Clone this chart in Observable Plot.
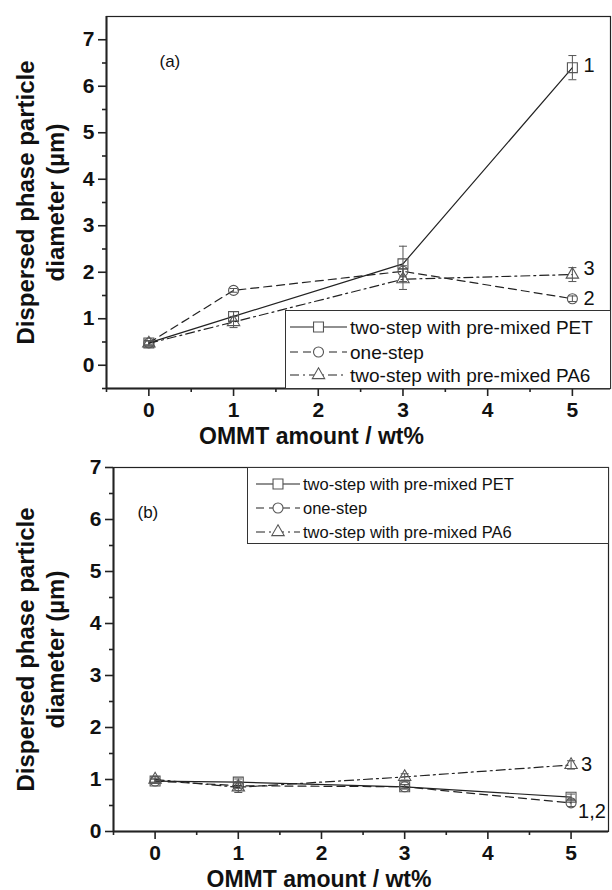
<!DOCTYPE html>
<html><head><meta charset="utf-8">
<script src="https://cdn.jsdelivr.net/npm/d3@7"></script>
<script src="https://cdn.jsdelivr.net/npm/@observablehq/plot@0.6"></script>
<style>
body{margin:0;background:#fff}
#wrap{position:relative;width:612px;height:890px;overflow:hidden;font-family:"Liberation Sans",Arial,sans-serif}
#wrap > *{position:absolute}
</style>
</head><body><div id="wrap"></div>
<script>
// ---- data ----
const xValues = [0, 1, 3, 5];
const seriesNames = ["two-step with pre-mixed PET", "one-step", "two-step with pre-mixed PA6"];
const seriesTags = ["1", "2", "3"];
const xLabel = "OMMT amount / wt%";
const yLabel = "Dispersed phase particle\ndiameter (µm)";
const yMajorTicks = [0, 1, 2, 3, 4, 5, 6, 7];
const xMajorTicks = [0, 1, 2, 3, 4, 5];

// panel (a)
const aPET = [0.48, 1.05, 2.18, 6.40];
const aPETErr = [0.05, 0.10, 0.38, 0.26];
const aOne = [0.48, 1.61, 2.02, 1.43];
const aOneErr = [0.04, 0.04, 0.12, 0.06];
const aPA6 = [0.47, 0.93, 1.85, 1.95];
const aPA6Err = [0.06, 0.12, 0.22, 0.15];

// panel (b)
const bPET = [0.97, 0.95, 0.86, 0.66];
const bPETErr = [0.04, 0.06, 0.04, 0.06];
const bOne = [0.97, 0.88, 0.86, 0.55];
const bOneErr = [0.04, 0.05, 0.04, 0.07];
const bPA6 = [1.00, 0.85, 1.05, 1.28];
const bPA6Err = [0.05, 0.10, 0.06, 0.08];

// ---- styling ----
const FONT = '"Liberation Sans", Arial, sans-serif';
const lineStyles = [null, "8,5", "9,4,2,4"];
const symbols = ["square", "circle", "triangle"];
const symbolR = [5.6, 5, 4.6];
const markerStroke = "#555";
const capSymbol = {draw(ctx, size) { const w = Math.sqrt(size / Math.PI); ctx.moveTo(-w, 0); ctx.lineTo(w, 0); }};

function rows(vals, errs) { return xValues.map((x, i) => ({x, y: vals[i], e: errs[i]})); }

function panel({series, tags, xDomain, yDomain, width, height, mt, mb, ml, mr, letter, letterDx, letterDy, titleDx, titleDy}) {
  const marks = [];
  const yMinor = d3.range(yDomain[0] < 0 ? -0.5 : 0.5, yDomain[1], 1);
  const xMinor = d3.range(-0.5, xDomain[1], 1);
  const fmt = d => String(d);
  marks.push(Plot.frame({stroke: "#222", strokeWidth: 1.2}));
  marks.push(Plot.axisY({ticks: yMinor, tickSize: 4, tickFormat: () => "", label: null, strokeWidth: 1.6}));
  marks.push(Plot.axisY({ticks: yMajorTicks, tickSize: 8, tickPadding: 4, tickFormat: fmt, label: null, fontSize: 21, fontWeight: "bold", strokeWidth: 1.6, fill: "#111"}));
  marks.push(Plot.axisX({ticks: xMinor, tickSize: 4, tickFormat: () => "", label: null, strokeWidth: 1.6}));
  marks.push(Plot.axisX({ticks: xMajorTicks, tickSize: 8, tickPadding: 6, tickFormat: fmt, label: null, fontSize: 21, fontWeight: "bold", strokeWidth: 1.6, fill: "#111"}));
  marks.push(Plot.ruleX([xDomain[0]], {stroke: "#222", strokeWidth: 2}));
  marks.push(Plot.ruleY([yDomain[0]], {stroke: "#222", strokeWidth: 2}));
  series.forEach((data, k) => {
    marks.push(Plot.line(data, {x: "x", y: "y", stroke: "#222", strokeWidth: 1.2, strokeDasharray: lineStyles[k]}));
    marks.push(Plot.ruleX(data, {x: "x", y1: d => d.y - d.e, y2: d => d.y + d.e, stroke: markerStroke, strokeWidth: 1}));
    marks.push(Plot.dot(data, {x: "x", y: d => d.y + d.e, symbol: capSymbol, r: 4, stroke: markerStroke, strokeWidth: 1}));
    marks.push(Plot.dot(data, {x: "x", y: d => d.y - d.e, symbol: capSymbol, r: 4, stroke: markerStroke, strokeWidth: 1}));
    marks.push(Plot.dot(data, {x: "x", y: "y", symbol: symbols[k], r: symbolR[k], fill: "none", stroke: markerStroke, strokeWidth: 1.1}));
  });
  tags.forEach(t => {
    const last = series[t.series][series[t.series].length - 1];
    marks.push(Plot.text([last], {x: "x", y: "y", text: () => t.text, dx: t.dx, dy: t.dy, textAnchor: "start", fontSize: 20, fill: "#111"}));
  });
  marks.push(Plot.text([letter], {frameAnchor: "top-left", dx: letterDx, dy: letterDy, textAnchor: "start", fontSize: 17, fill: "#111"}));
  marks.push(Plot.text([xLabel], {frameAnchor: "bottom", dx: titleDx, dy: titleDy, fontSize: 23, fontWeight: "bold", fill: "#111"}));
  marks.push(Plot.text([yLabel], {frameAnchor: "left", rotate: -90, dx: -ml + 39, textAnchor: "middle", lineAnchor: "middle", lineHeight: 1.25, fontSize: 24, fontWeight: "bold", fill: "#111"}));
  return Plot.plot({
    width, height, marginTop: mt, marginBottom: mb, marginLeft: ml, marginRight: mr,
    style: {fontFamily: FONT, background: "white", color: "#222", overflow: "visible"},
    x: {domain: xDomain, axis: null},
    y: {domain: yDomain, axis: null},
    marks
  });
}

function legend({left, top, width, height, rowYs, sampleX0, sampleX1, textX, fontSize}) {
  const svg = d3.create("svg").attr("width", width + 2).attr("height", height + 2)
    .style("left", left + "px").style("top", top + "px").style("overflow", "visible");
  svg.append("rect").attr("x", 0.5).attr("y", 0.5).attr("width", width).attr("height", height)
    .attr("fill", "white").attr("stroke", "#333").attr("stroke-width", 1);
  seriesNames.forEach((name, k) => {
    const y = rowYs[k];
    svg.append("line").attr("x1", sampleX0).attr("x2", sampleX1).attr("y1", y).attr("y2", y)
      .attr("stroke", "#222").attr("stroke-width", 1.2).attr("stroke-dasharray", lineStyles[k]);
    const sym = {square: d3.symbolSquare, circle: d3.symbolCircle, triangle: d3.symbolTriangle}[symbols[k]];
    svg.append("path").attr("d", d3.symbol(sym, Math.PI * symbolR[k] ** 2)())
      .attr("transform", `translate(${(sampleX0 + sampleX1) / 2},${y})`)
      .attr("fill", "white").attr("stroke", markerStroke).attr("stroke-width", 1.1);
    svg.append("text").attr("x", textX).attr("y", y).attr("dy", "0.35em")
      .attr("font-family", FONT).attr("font-size", fontSize).attr("fill", "#111").text(name);
  });
  return svg.node();
}

const wrap = document.getElementById("wrap");

const pa = panel({
  series: [rows(aPET, aPETErr), rows(aOne, aOneErr), rows(aPA6, aPA6Err)],
  tags: [{series: 0, text: seriesTags[0], dx: 11, dy: -2}, {series: 2, text: seriesTags[2], dx: 11, dy: -6}, {series: 1, text: seriesTags[1], dx: 11, dy: 0}],
  xDomain: [-0.5, 5.45], yDomain: [-0.5, 7.5],
  width: 612, height: 450, mt: 16, mb: 62, ml: 106, mr: 2,
  letter: "(a)", letterDx: 53, letterDy: 38, titleDx: -47, titleDy: 55
});
pa.style.left = "0px"; pa.style.top = "0px";
wrap.appendChild(pa);
wrap.appendChild(legend({left: 285, top: 310, width: 325, height: 78, rowYs: [17, 42, 65], sampleX0: 5, sampleX1: 62, textX: 65, fontSize: 19}));

const pb = panel({
  series: [rows(bPET, bPETErr), rows(bOne, bOneErr), rows(bPA6, bPA6Err)],
  tags: [{series: 2, text: seriesTags[2], dx: 10, dy: 0}, {series: 1, text: "1,2", dx: 7, dy: 9}],
  xDomain: [-0.5, 5.45], yDomain: [0, 7],
  width: 612, height: 440, mt: 17, mb: 59, ml: 113, mr: 4,
  letter: "(b)", letterDx: 24, letterDy: 38, titleDx: -42, titleDy: 55
});
pb.style.left = "0px"; pb.style.top = "450px";
wrap.appendChild(pb);
wrap.appendChild(legend({left: 247, top: 467, width: 361, height: 76, rowYs: [17, 41, 65], sampleX0: 9, sampleX1: 53, textX: 56, fontSize: 16.5}));
</script>
</body></html>
